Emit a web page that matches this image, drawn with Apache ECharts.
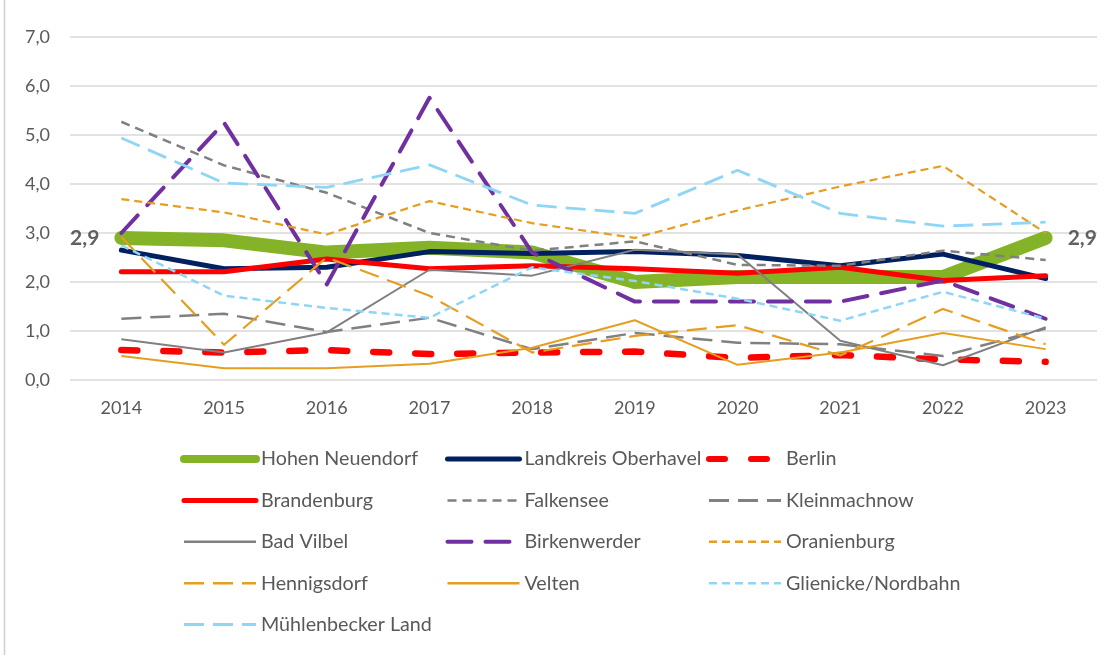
<!DOCTYPE html>
<html>
<head>
<meta charset="utf-8">
<title>Entwicklung 2014–2023</title>
<script src="https://cdn.jsdelivr.net/npm/echarts@6/dist/echarts.min.js"></script>
<style>
  html, body { margin: 0; padding: 0; background: #ffffff; }
  #chart { width: 1120px; height: 655px; }
</style>
</head>
<body>
<div id="chart"></div>
<script>
// Years on the category axis
const years = ['2014', '2015', '2016', '2017', '2018', '2019', '2020', '2021', '2022', '2023'];

// Value axis ticks
const yMin = 0;
const yMax = 7;
const yStep = 1;

// Series values per municipality / region
const hohenNeuendorf     = [2.9, 2.85, 2.6, 2.7, 2.6, 2.0, 2.1, 2.1, 2.1, 2.9];
const landkreisOberhavel = [2.65, 2.27, 2.3, 2.62, 2.58, 2.62, 2.54, 2.33, 2.57, 2.07];
const berlin             = [0.61, 0.56, 0.61, 0.53, 0.56, 0.58, 0.45, 0.51, 0.42, 0.37];
const brandenburg        = [2.21, 2.21, 2.47, 2.27, 2.33, 2.27, 2.18, 2.3, 2.03, 2.13];
const falkensee          = [5.27, 4.38, 3.82, 3.0, 2.64, 2.83, 2.35, 2.33, 2.64, 2.45];
const kleinmachnow       = [1.25, 1.35, 0.98, 1.27, 0.63, 0.96, 0.76, 0.73, 0.49, 1.05];
const badVilbel          = [0.83, 0.56, 0.97, 2.25, 2.13, 2.66, 2.56, 0.8, 0.3, 1.08];
const birkenwerder       = [3.0, 5.25, 1.95, 5.76, 2.6, 1.6, 1.6, 1.6, 2.03, 1.25];
const oranienburg        = [3.69, 3.42, 2.97, 3.65, 3.2, 2.9, 3.46, 3.95, 4.37, 3.0];
const hennigsdorf        = [2.92, 0.72, 2.5, 1.72, 0.56, 0.9, 1.12, 0.5, 1.45, 0.73];
const velten             = [0.49, 0.24, 0.24, 0.33, 0.66, 1.22, 0.31, 0.56, 0.96, 0.63];
const glienicke          = [2.75, 1.72, 1.47, 1.27, 2.3, 2.02, 1.66, 1.21, 1.8, 1.25];
const muehlenbecker      = [4.94, 4.02, 3.93, 4.39, 3.57, 3.4, 4.28, 3.4, 3.14, 3.22];

const FONT = 'Lato';
const TEXT = '#595959';
const GREEN = '#84b327';
const NAVY = '#002060';
const RED = '#ff0000';
const GRAY = '#808080';
const PURPLE = '#7030a0';
const GOLD = '#e59e1f';
const SKY = '#8fd6f6';

const SHORT_DASH = [8, 5];
const LONG_DASH = [20, 9];

// Line appearance per series (drawing order = list order)
const lines = [
  { name: 'Hohen Neuendorf',    data: hohenNeuendorf,     color: GREEN,  width: 14,  dash: 'solid',   cap: 'round', legendWidth: 8 },
  { name: 'Landkreis Oberhavel', data: landkreisOberhavel, color: NAVY,   width: 5,   dash: 'solid',   cap: 'round', legendWidth: 5 },
  { name: 'Berlin',             data: berlin,             color: RED,    width: 6.5, dash: [16, 26],  cap: 'round', legendWidth: 6 },
  { name: 'Brandenburg',        data: brandenburg,        color: RED,    width: 5,   dash: 'solid',   cap: 'round', legendWidth: 5 },
  { name: 'Falkensee',          data: falkensee,          color: GRAY,   width: 2.5, dash: [9, 6],    cap: 'butt',  legendWidth: 2.5 },
  { name: 'Kleinmachnow',       data: kleinmachnow,       color: GRAY,   width: 2.5, dash: LONG_DASH, cap: 'butt',  legendWidth: 3 },
  { name: 'Bad Vilbel',         data: badVilbel,          color: GRAY,   width: 2,   dash: 'solid',   cap: 'butt',  legendWidth: 2.5 },
  { name: 'Birkenwerder',       data: birkenwerder,       color: PURPLE, width: 4,   dash: [24, 14],  cap: 'round', legendWidth: 4 },
  { name: 'Oranienburg',        data: oranienburg,        color: GOLD,   width: 2.2, dash: SHORT_DASH, cap: 'butt', legendWidth: 2.5 },
  { name: 'Hennigsdorf',        data: hennigsdorf,        color: GOLD,   width: 2.2, dash: LONG_DASH, cap: 'butt',  legendWidth: 2.5 },
  { name: 'Velten',             data: velten,             color: GOLD,   width: 2,   dash: 'solid',   cap: 'butt',  legendWidth: 2.5 },
  { name: 'Glienicke/Nordbahn', data: glienicke,          color: SKY,    width: 2.5, dash: SHORT_DASH, cap: 'butt', legendWidth: 2.5 },
  { name: 'Mühlenbecker Land',  data: muehlenbecker,      color: SKY,    width: 2.8, dash: LONG_DASH, cap: 'butt',  legendWidth: 3 }
];

// Legend columns
const legendColumns = [
  { left: 180, names: ['Hohen Neuendorf', 'Brandenburg', 'Bad Vilbel', 'Hennigsdorf', 'Mühlenbecker Land'] },
  { left: 445, names: ['Landkreis Oberhavel', 'Falkensee', 'Birkenwerder', 'Velten'] },
  { left: 706, names: ['Berlin', 'Kleinmachnow', 'Oranienburg', 'Glienicke/Nordbahn'] }
];

const fmt = v => v.toFixed(1).replace('.', ',');
const byName = Object.fromEntries(lines.map(l => [l.name, l]));

const series = lines.map(l => ({
  name: l.name,
  type: 'line',
  data: l.data,
  symbol: 'none',
  smooth: false,
  lineStyle: { color: l.color, width: l.width, type: l.dash, cap: l.cap, join: 'round' },
  itemStyle: { color: l.color },
  emphasis: { disabled: true }
}));

// Value labels at the first and last year of Hohen Neuendorf
const lastIdx = hohenNeuendorf.length - 1;
series.push({
  name: 'labels',
  type: 'scatter',
  symbolSize: 0,
  silent: true,
  z: 10,
  data: [
    { value: [0, hohenNeuendorf[0]], label: { position: 'left' } },
    { value: [lastIdx, hohenNeuendorf[lastIdx]], label: { position: 'right' } }
  ],
  label: {
    show: true,
    distance: 22,
    formatter: p => fmt(p.value[1]),
    fontFamily: FONT,
    fontSize: 21,
    fontWeight: 'bold',
    color: '#3a3a3a'
  }
});

const legends = legendColumns.map((col, i) => ({
  id: 'legend' + i,
  orient: 'vertical',
  left: col.left,
  top: 449,
  height: 230,
  padding: 0,
  itemWidth: 72,
  itemHeight: 14,
  itemGap: 21.4,
  itemTextGap: 4,
  selectedMode: false,
  itemStyle: { color: 'rgba(0,0,0,0)', borderWidth: 0, opacity: 0 },
  textStyle: { fontFamily: FONT, fontSize: 19.7, color: TEXT },
  data: col.names.map(n => ({
    name: n,
    lineStyle: { width: byName[n].legendWidth }
  }))
}));

const chart = echarts.init(document.getElementById('chart'), null, { renderer: 'canvas' });
chart.setOption({
  animation: false,
  backgroundColor: '#ffffff',
  grid: { left: 70, right: 23, top: 37, bottom: 275, containLabel: false },
  xAxis: {
    type: 'category',
    data: years,
    boundaryGap: true,
    axisLine: { show: false },
    axisTick: { show: false },
    axisLabel: { margin: 19, color: TEXT, fontFamily: FONT, fontSize: 18 }
  },
  yAxis: {
    type: 'value',
    min: yMin,
    max: yMax,
    interval: yStep,
    axisLine: { show: false },
    axisTick: { show: false },
    axisLabel: { margin: 20, color: TEXT, fontFamily: FONT, fontSize: 18, formatter: v => fmt(v) },
    splitLine: { lineStyle: { color: '#d9d9d9', width: 1.5 } }
  },
  legend: legends,
  series: series,
  graphic: [{
    type: 'line',
    shape: { x1: 4.5, y1: 0, x2: 4.5, y2: 655 },
    style: { stroke: '#d0d0d0', lineWidth: 1.5 },
    silent: true
  }]
});
</script>
</body>
</html>
